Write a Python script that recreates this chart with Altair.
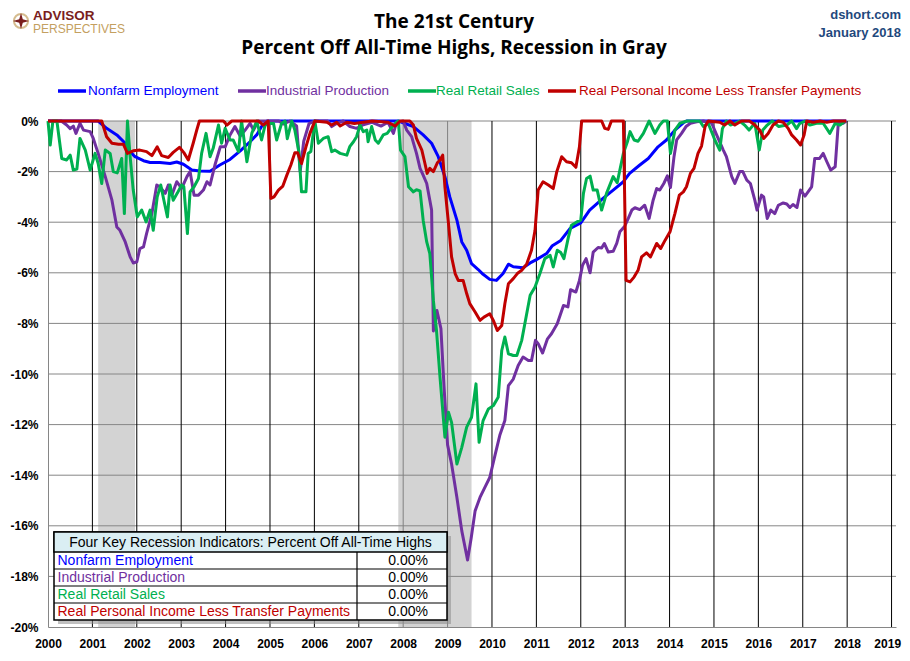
import altair as alt
import pandas as pd

# ---------------- data ----------------
SERIES = ["Nonfarm Employment", "Industrial Production", "Real Retail Sales",
          "Real Personal Income Less Transfer Payments"]
COLORS = ["#0000FF", "#7030A0", "#00B050", "#C00000"]
TABLE_TITLE = "Four Key Recession Indicators: Percent Off All-Time Highs"
TABLE_VALUES = ["0.00%", "0.00%", "0.00%", "0.00%"]
TITLE_LINES = ["The 21st Century", "Percent Off All-Time Highs, Recession in Gray"]
SOURCE_LINES = ["dshort.com", "January 2018"]
LOGO_LINES = ["ADVISOR", "PERSPECTIVES"]
YEARS = list(range(2000, 2020))
Y_TICKS = list(range(-20, 1, 2))
RECESSION_START = [2001.13, 2007.89]
RECESSION_END = [2001.96, 2009.54]

nfp = [(2000.0, 0), (2001.13, 0), (2001.32, -0.29), (2001.55, -0.55), (2001.74, -0.88),
       (2001.85, -1.21), (2001.96, -1.41), (2002.15, -1.57), (2002.30, -1.64), (2002.52, -1.64),
       (2002.75, -1.68), (2002.90, -1.62), (2003.05, -1.71), (2003.24, -1.94), (2003.42, -1.98),
       (2003.65, -1.99), (2003.87, -1.74), (2004.10, -1.52), (2004.33, -1.18), (2004.55, -0.82),
       (2004.70, -0.55), (2004.81, -0.22), (2004.93, 0), (2007.90, 0), (2008.00, -0.07),
       (2008.23, -0.22), (2008.45, -0.55), (2008.64, -0.88), (2008.79, -1.41), (2008.94, -2.2),
       (2009.05, -3.0), (2009.21, -3.92), (2009.32, -4.78), (2009.43, -5.11), (2009.54, -5.64),
       (2009.69, -5.87), (2009.80, -6.06), (2009.95, -6.26), (2010.10, -6.30), (2010.25, -6.03),
       (2010.37, -5.66), (2010.48, -5.76), (2010.70, -5.80), (2010.86, -5.61), (2011.00, -5.48),
       (2011.23, -5.24), (2011.36, -4.93), (2011.55, -4.72), (2011.76, -4.25), (2012.00, -4.03),
       (2012.20, -3.52), (2012.50, -3.06), (2012.73, -2.73), (2012.96, -2.40), (2013.10, -2.07),
       (2013.33, -1.74), (2013.52, -1.48), (2013.74, -1.02), (2013.93, -0.75), (2014.12, -0.36),
       (2014.31, -0.07), (2014.38, 0), (2017.98, 0)]

ip = [(2000.0, 0), (2000.3, 0), (2000.42, -0.16), (2000.5, -0.3), (2000.57, -0.2), (2000.63, -0.49),
      (2000.72, -0.09), (2000.8, -0.36), (2000.95, -0.42), (2001.02, -0.69), (2001.13, -1.28),
      (2001.29, -2.2), (2001.44, -3.13), (2001.55, -4.19), (2001.62, -4.32), (2001.74, -4.78),
      (2001.85, -5.37), (2001.92, -5.61), (2002.0, -5.57), (2002.07, -5.04), (2002.15, -4.98),
      (2002.22, -4.45), (2002.34, -3.66), (2002.45, -2.53), (2002.52, -2.6), (2002.64, -2.86),
      (2002.71, -2.53), (2002.79, -2.93), (2002.9, -2.4), (2003.01, -2.66), (2003.13, -2.2),
      (2003.2, -2.0), (2003.29, -2.93), (2003.39, -2.93), (2003.5, -2.73), (2003.58, -2.4),
      (2003.65, -2.53), (2003.76, -1.74), (2003.88, -1.02), (2003.99, -1.02), (2004.1, -0.55),
      (2004.21, -0.22), (2004.33, -0.6), (2004.44, -0.36), (2004.55, -0.09), (2004.63, -0.36),
      (2004.73, 0), (2005.2, 0), (2005.3, -0.12), (2005.45, 0), (2005.6, -0.2), (2005.68, -2.0),
      (2005.76, -0.8), (2005.88, -0.1), (2006.0, 0), (2006.3, 0), (2006.39, -0.22), (2006.5, -0.1),
      (2006.65, 0), (2006.8, -0.22), (2006.95, -0.29), (2007.1, -0.15), (2007.3, -0.05),
      (2007.5, -0.2), (2007.66, -0.05), (2007.78, -0.49), (2007.85, -0.05), (2008.0, 0),
      (2008.08, -0.36), (2008.19, -0.62), (2008.3, -1.28), (2008.38, -1.87), (2008.45, -2.14),
      (2008.53, -2.47), (2008.6, -3.13), (2008.64, -3.52), (2008.68, -8.3), (2008.76, -7.49),
      (2008.85, -8.2), (2008.92, -10.5), (2009.0, -12.8), (2009.09, -13.56), (2009.21, -14.88),
      (2009.32, -16.2), (2009.45, -17.35), (2009.53, -16.5), (2009.62, -15.41), (2009.73, -14.88),
      (2009.84, -14.48), (2009.95, -14.09), (2010.07, -13.2), (2010.18, -12.4), (2010.29, -11.84),
      (2010.37, -10.46), (2010.48, -10.2), (2010.59, -9.66), (2010.7, -9.33), (2010.82, -9.47),
      (2010.89, -9.47), (2010.98, -8.67), (2011.04, -8.8), (2011.14, -9.17), (2011.25, -8.61),
      (2011.34, -8.41), (2011.47, -8.01), (2011.61, -7.29), (2011.71, -7.35), (2011.77, -6.67),
      (2011.89, -6.76), (2011.97, -6.3), (2012.04, -5.7), (2012.12, -5.44), (2012.21, -6.0),
      (2012.28, -5.18), (2012.39, -5.0), (2012.47, -5.02), (2012.53, -4.84), (2012.62, -5.18),
      (2012.73, -5.15), (2012.81, -4.84), (2012.88, -4.38), (2012.99, -4.16), (2013.07, -3.85),
      (2013.15, -3.52), (2013.22, -3.43), (2013.33, -3.5), (2013.44, -3.33), (2013.54, -3.85),
      (2013.63, -3.13), (2013.71, -2.67), (2013.78, -2.73), (2013.87, -2.47), (2013.95, -2.17),
      (2014.02, -2.63), (2014.1, -1.41), (2014.16, -0.75), (2014.27, -0.49), (2014.37, -0.22),
      (2014.47, -0.09), (2014.61, -0.03), (2014.76, 0), (2014.95, -0.09), (2015.06, -0.55),
      (2015.21, -1.15), (2015.28, -1.41), (2015.4, -2.2), (2015.47, -2.47), (2015.58, -2.0),
      (2015.65, -2.0), (2015.74, -2.34), (2015.82, -2.47), (2015.92, -3.13), (2015.97, -3.52),
      (2016.07, -2.93), (2016.12, -3.0), (2016.2, -3.85), (2016.28, -3.52), (2016.37, -3.66),
      (2016.45, -3.33), (2016.56, -3.24), (2016.64, -3.28), (2016.71, -3.42), (2016.78, -3.3),
      (2016.87, -3.42), (2016.95, -2.73), (2017.05, -2.97), (2017.2, -2.6), (2017.27, -1.48),
      (2017.38, -1.48), (2017.46, -1.28), (2017.54, -1.6), (2017.63, -1.94), (2017.73, -1.81),
      (2017.8, -0.09), (2017.91, -0.09), (2017.98, 0)]

rrs = [(2000.0, 0), (2000.05, -0.95), (2000.11, 0), (2000.2, 0), (2000.31, -1.48), (2000.42, -1.54),
       (2000.5, -1.35), (2000.57, -1.94), (2000.65, -1.9), (2000.72, -0.69), (2000.84, -1.15),
       (2000.95, -1.94), (2001.06, -1.28), (2001.13, -1.68), (2001.21, -2.47), (2001.29, -1.15),
       (2001.40, -1.28), (2001.47, -2.0), (2001.56, -2.05), (2001.66, -1.48), (2001.72, -3.66),
       (2001.79, 0), (2001.85, -1.41), (2001.92, -2.73), (2002.01, -3.79), (2002.11, -3.52),
       (2002.21, -3.99), (2002.30, -3.52), (2002.37, -4.32), (2002.46, -3.0), (2002.54, -2.53),
       (2002.61, -3.13), (2002.69, -3.79), (2002.75, -2.53), (2002.82, -3.13), (2002.91, -2.86),
       (2003.01, -2.53), (2003.06, -2.6), (2003.14, -4.45), (2003.20, -2.8), (2003.29, -2.6),
       (2003.39, -2.27), (2003.46, -1.28), (2003.56, -0.49), (2003.65, -1.41), (2003.72, -1.08),
       (2003.84, -0.16), (2003.91, -0.88), (2003.99, -0.29), (2004.10, -0.75), (2004.17, -0.75),
       (2004.29, -1.21), (2004.36, 0), (2004.48, -1.61), (2004.59, -0.49), (2004.70, 0),
       (2004.81, -0.75), (2004.89, -0.16), (2005.0, -0.1), (2005.08, -0.1), (2005.15, -0.75),
       (2005.26, -0.1), (2005.34, 0), (2005.39, -0.7), (2005.49, 0), (2005.56, -0.36),
       (2005.65, -1.2), (2005.71, -2.8), (2005.81, -2.8), (2005.86, -1.28), (2005.92, -1.21),
       (2006.01, 0), (2006.09, -0.88), (2006.20, -0.69), (2006.31, -0.62), (2006.39, -1.21),
       (2006.46, -1.15), (2006.58, -1.28), (2006.73, -1.35), (2006.80, -1.0), (2006.88, -0.82),
       (2006.95, -0.62), (2007.03, -0.16), (2007.10, -0.42), (2007.18, -0.36), (2007.21, -0.82),
       (2007.29, -0.22), (2007.37, -0.75), (2007.44, -0.88), (2007.55, -0.55), (2007.64, -0.49),
       (2007.72, -0.3), (2007.82, -0.1), (2007.89, 0), (2007.94, -1.15), (2008.04, -1.41),
       (2008.12, -2.6), (2008.23, -2.8), (2008.30, -2.72), (2008.38, -2.76), (2008.45, -3.92),
       (2008.53, -4.78), (2008.60, -5.24), (2008.68, -7.09), (2008.75, -8.28), (2008.83, -10.13),
       (2008.94, -12.5), (2009.02, -11.51), (2009.09, -11.91), (2009.21, -13.56), (2009.32, -12.9),
       (2009.43, -12.1), (2009.54, -11.71), (2009.64, -10.39), (2009.71, -12.7), (2009.80, -11.84),
       (2009.92, -11.38), (2010.03, -11.25), (2010.14, -10.92), (2010.22, -9.07), (2010.29, -8.54),
       (2010.37, -9.2), (2010.48, -9.27), (2010.56, -9.27), (2010.67, -8.67), (2010.74, -8.01),
       (2010.86, -6.89), (2010.97, -6.56), (2011.08, -6.03), (2011.19, -5.44), (2011.31, -5.31),
       (2011.38, -5.77), (2011.47, -5.11), (2011.55, -5.2), (2011.62, -5.44), (2011.72, -4.6),
       (2011.79, -4.12), (2011.91, -3.99), (2012.0, -3.92), (2012.06, -2.86), (2012.13, -2.27),
       (2012.21, -2.18), (2012.28, -2.73), (2012.37, -2.73), (2012.47, -3.52), (2012.58, -2.86),
       (2012.73, -2.2), (2012.82, -2.44), (2012.96, -1.28), (2013.05, -0.82), (2013.11, -0.42),
       (2013.2, -0.75), (2013.29, -0.8), (2013.41, -0.49), (2013.54, 0), (2013.67, -0.49),
       (2013.78, -0.16), (2013.86, 0), (2013.95, 0), (2014.02, -1.28), (2014.12, -0.36),
       (2014.23, -0.09), (2014.4, 0), (2014.68, 0), (2014.76, -0.22), (2014.87, -0.09),
       (2015.02, -0.75), (2015.13, -1.15), (2015.19, -0.3), (2015.28, 0), (2015.37, -0.16),
       (2015.47, -0.09), (2015.58, 0), (2015.69, -0.16), (2015.79, -0.36), (2015.92, -0.09),
       (2016.02, -1.15), (2016.1, -0.36), (2016.2, -0.16), (2016.31, 0), (2016.46, -0.22),
       (2016.64, -0.16), (2016.75, 0), (2016.86, -0.3), (2016.93, -0.1), (2017.05, 0),
       (2017.16, -0.16), (2017.31, -0.09), (2017.46, -0.09), (2017.61, -0.49), (2017.73, -0.09),
       (2017.84, -0.16), (2017.95, 0)]

rpi = [(2000.0, 0), (2001.21, 0), (2001.32, -0.62), (2001.44, -0.88), (2001.59, -0.92),
       (2001.70, -0.92), (2001.79, -1.28), (2001.92, -1.18), (2002.07, -1.15), (2002.22, -1.21),
       (2002.34, -1.37), (2002.46, -1.02), (2002.56, -1.37), (2002.71, -1.44), (2002.82, -1.24),
       (2002.96, -1.04), (2003.06, -1.25), (2003.16, -1.54), (2003.27, -0.88), (2003.35, -0.36),
       (2003.41, 0), (2003.95, 0), (2004.03, -0.16), (2004.14, 0), (2004.74, 0), (2004.85, -0.16),
       (2004.96, 0), (2005.02, -3.06), (2005.09, -3.0), (2005.19, -2.73), (2005.29, -2.57),
       (2005.38, -2.14), (2005.47, -1.74), (2005.56, -1.25), (2005.62, -1.25), (2005.71, -1.68),
       (2005.81, -1.02), (2005.90, -0.49), (2006.01, 0), (2006.28, -0.05), (2006.39, -0.16),
       (2006.5, -0.05), (2006.58, -0.2), (2006.73, -0.05), (2006.9, -0.1), (2007.1, -0.05),
       (2007.3, 0), (2007.66, -0.05), (2007.82, -0.2), (2007.93, 0), (2008.15, 0),
       (2008.23, -0.16), (2008.30, -0.69), (2008.42, -1.15), (2008.49, -1.68), (2008.54, -2.07),
       (2008.60, -1.87), (2008.68, -2.0), (2008.77, -1.65), (2008.83, -1.54), (2008.89, -1.35),
       (2008.94, -2.6), (2009.02, -4.05), (2009.09, -5.37), (2009.17, -6.03), (2009.24, -6.30),
       (2009.35, -6.30), (2009.43, -6.82), (2009.50, -7.22), (2009.62, -7.55), (2009.73, -7.88),
       (2009.82, -7.75), (2009.95, -7.62), (2010.03, -7.88), (2010.12, -8.28), (2010.22, -8.08),
       (2010.29, -7.22), (2010.37, -6.43), (2010.48, -6.23), (2010.57, -6.03), (2010.67, -5.9),
       (2010.78, -5.66), (2010.89, -5.11), (2010.97, -4.32), (2011.04, -2.73), (2011.15, -2.4),
       (2011.27, -2.53), (2011.38, -2.67), (2011.46, -2.0), (2011.57, -1.41), (2011.68, -1.61),
       (2011.79, -1.65), (2011.89, -1.83), (2011.97, -1.02), (2012.02, 0), (2012.47, 0),
       (2012.54, -0.29), (2012.62, -0.33), (2012.69, 0), (2012.96, 0), (2013.02, -6.3),
       (2013.11, -6.36), (2013.2, -6.17), (2013.29, -5.9), (2013.37, -5.37), (2013.48, -5.21),
       (2013.57, -5.37), (2013.71, -4.84), (2013.80, -5.04), (2013.90, -4.71), (2014.01, -4.38),
       (2014.12, -3.66), (2014.22, -2.93), (2014.31, -2.8), (2014.38, -2.6), (2014.47, -2.07),
       (2014.55, -1.87), (2014.64, -1.28), (2014.72, -0.99), (2014.80, -0.22), (2014.87, 0),
       (2015.13, -0.05), (2015.24, -0.16), (2015.36, 0), (2015.47, -0.16), (2015.62, 0),
       (2015.8, 0), (2015.92, -0.16), (2016.03, -0.36), (2016.12, -0.69), (2016.22, -0.49),
       (2016.33, -0.16), (2016.45, 0), (2016.56, -0.05), (2016.67, -0.29), (2016.75, -0.55),
       (2016.86, -0.75), (2016.95, -0.95), (2017.03, -0.55), (2017.09, 0), (2017.24, -0.05),
       (2017.39, 0), (2017.54, -0.05), (2017.69, 0), (2017.98, 0)]

SERIES_DATA = [nfp, ip, rrs, rpi]

# ---------------- layout ----------------
W, H = 848, 506
PAD = {"left": 40, "top": 113, "right": 6, "bottom": 26}
AX_FONT = "Liberation Sans"
TXT_FONT = "Liberation Sans"
LAST_YEAR_TEST = f"datum.value == {YEARS[-1]}"

XS = alt.Scale(domain=[2000, 2019.1], nice=False, zero=False)
YS = alt.Scale(domain=[-20, 0], nice=False, zero=False)

X_AXIS = alt.Axis(values=YEARS, format="d", grid=False, ticks=False, tickSize=0,
                  domainColor="#868686", domainWidth=1, labelFont=AX_FONT,
                  labelFontWeight="bold", labelFontSize=12, labelColor="black",
                  labelPadding=11, title=None, labelFlush=False,
                  labelAlign={"condition": {"test": LAST_YEAR_TEST, "value": "right"},
                              "value": "center"},
                  labelOffset={"condition": {"test": LAST_YEAR_TEST, "value": 9},
                               "value": 0})
Y_AXIS = alt.Axis(values=Y_TICKS, labelExpr="datum.value + '%'", grid=False, ticks=False,
                  tickSize=0, domainColor="#868686", domainWidth=1, labelFont=AX_FONT,
                  labelFontWeight="bold", labelFontSize=12, labelColor="black",
                  labelPadding=10, title=None)


def xenc(field):
    return alt.X(field, scale=XS, axis=X_AXIS, title=None)


def yenc(field):
    return alt.Y(field, scale=YS, axis=Y_AXIS, title=None)


layers = []

# recession shading
rec_df = pd.DataFrame({"start": RECESSION_START, "end": RECESSION_END,
                       "lo": [-20] * len(RECESSION_START), "hi": [0] * len(RECESSION_START)})
layers.append(alt.Chart(rec_df).mark_rect(color="#D3D3D3").encode(
    x=xenc("start:Q"), x2="end:Q", y=yenc("lo:Q"), y2="hi:Q"))

# horizontal gridlines
layers.append(alt.Chart(pd.DataFrame({"v": Y_TICKS[1:]})).mark_rule(
    color="#868686", strokeWidth=1).encode(y=yenc("v:Q")))

# vertical gridlines (gray where under shading)
in_shade = " || ".join(f"(datum.t > {s} && datum.t < {e})"
                       for s, e in zip(RECESSION_START, RECESSION_END))
layers.append(alt.Chart(pd.DataFrame({"t": YEARS[1:]})).mark_rule(strokeWidth=1).encode(
    x=xenc("t:Q"),
    color=alt.condition(in_shade, alt.value("#808080"), alt.value("#000000"))))

# data lines (first series drawn first, last on top)
for name, col, pts in zip(SERIES, COLORS, SERIES_DATA):
    df = pd.DataFrame({"t": [p[0] for p in pts], "v": [p[1] for p in pts]})
    layers.append(alt.Chart(df).mark_line(color=col, strokeWidth=3, strokeJoin="round").encode(
        x=xenc("t:Q"), y=yenc("v:Q")))


def txt(s, x, y, size, color="black", weight="normal", align="left", font=TXT_FONT,
        baseline="middle"):
    return alt.Chart(pd.DataFrame({"s": [s]})).mark_text(
        align=align, baseline=baseline, font=font, fontSize=size, fontWeight=weight,
        color=color).encode(text="s:N", x=alt.value(x), y=alt.value(y))


def rect(x0, x1, y0, y1, **kw):
    return alt.Chart(pd.DataFrame({"a": [0]})).mark_rect(**kw).encode(
        x=alt.value(x0), x2=alt.value(x1), y=alt.value(y0), y2=alt.value(y1))


def hseg(x0, x1, y, color, width):
    return alt.Chart(pd.DataFrame({"a": [0]})).mark_rule(color=color, strokeWidth=width).encode(
        x=alt.value(x0), x2=alt.value(x1), y=alt.value(y))


def vseg(x, y0, y1, color, width):
    return alt.Chart(pd.DataFrame({"a": [0]})).mark_rule(color=color, strokeWidth=width).encode(
        x=alt.value(x), y=alt.value(y0), y2=alt.value(y1))


# table (legend box)
TX0, TX1, TY0 = 6, 399, 411
HEAD_H, ROW_H = 20, 17
TY1 = TY0 + HEAD_H + ROW_H * len(SERIES)
DIV_X = 309
layers.append(rect(TX0 + 4, TX1 + 4, TY0 + 4, TY1 + 4, fill="#8c8c8c", opacity=0.55))
layers.append(rect(TX0, TX1, TY0, TY1, fill="white", stroke="black", strokeWidth=1.5))
layers.append(rect(TX0, TX1, TY0, TY0 + HEAD_H, fill="#DAEEF3", stroke="black", strokeWidth=1.5))
for i in range(1, len(SERIES)):
    layers.append(hseg(TX0, TX1, TY0 + HEAD_H + ROW_H * i, "black", 1.2))
layers.append(vseg(DIV_X, TY0 + HEAD_H, TY1, "black", 1.2))
layers.append(txt(TABLE_TITLE, (TX0 + TX1) / 2, TY0 + HEAD_H / 2 + 0.5, 14, align="center"))
for i, (name, col, val) in enumerate(zip(SERIES, COLORS, TABLE_VALUES)):
    yc = TY0 + HEAD_H + ROW_H * i + ROW_H / 2 + 0.5
    layers.append(txt(name, TX0 + 3.5, yc, 14, color=col))
    layers.append(txt(val, 380, yc, 14, align="right"))

# top legend
LEG_Y = -30
LEG_LINE_X = [10, 190, 360, 500]
LEG_TEXT_X = [40, 218, 388, 531]
for name, col, lx, tx in zip(SERIES, COLORS, LEG_LINE_X, LEG_TEXT_X):
    layers.append(hseg(lx, lx + 28, LEG_Y, col, 3.5))
    layers.append(txt(name, tx, LEG_Y, 13.5, color=col))

# titles
layers.append(txt(TITLE_LINES[0], 406, -93, 19, weight="bold", align="center", font="Open Sans",
                  baseline="alphabetic"))
layers.append(txt(TITLE_LINES[1], 406, -67, 19, weight="bold", align="center", font="Open Sans",
                  baseline="alphabetic"))
layers.append(txt(SOURCE_LINES[0], 853, -106, 13, color="#1F497D", weight="bold", align="right"))
layers.append(txt(SOURCE_LINES[1], 853, -88, 13, color="#1F497D", weight="bold", align="right"))

# logo
layers.append(alt.Chart(pd.DataFrame({"a": [0]})).mark_point(
    shape="circle", size=200, filled=False, stroke="#C4A060", strokeWidth=2).encode(
    x=alt.value(-27), y=alt.value(-100)))
layers.append(alt.Chart(pd.DataFrame({"a": [0]})).mark_point(
    shape="M0,-1L0.22,-0.22L1,0L0.22,0.22L0,1L-0.22,0.22L-1,0L-0.22,-0.22Z",
    size=260, filled=True, color="#7A1E1E", opacity=1).encode(
    x=alt.value(-27), y=alt.value(-100)))
layers.append(txt(LOGO_LINES[0], -15, -105.5, 13.5, color="#7A1E1E", weight="bold"))
layers.append(txt(LOGO_LINES[1], -15, -92, 12, color="#C4A060"))

chart = alt.layer(*layers).properties(
    width=W, height=H, padding=PAD,
    autosize=alt.AutoSizeParams(type="none"),
).configure(background="white").configure_view(stroke=None)

chart.save("out.html", embed_options={"renderer": "svg", "actions": False})
